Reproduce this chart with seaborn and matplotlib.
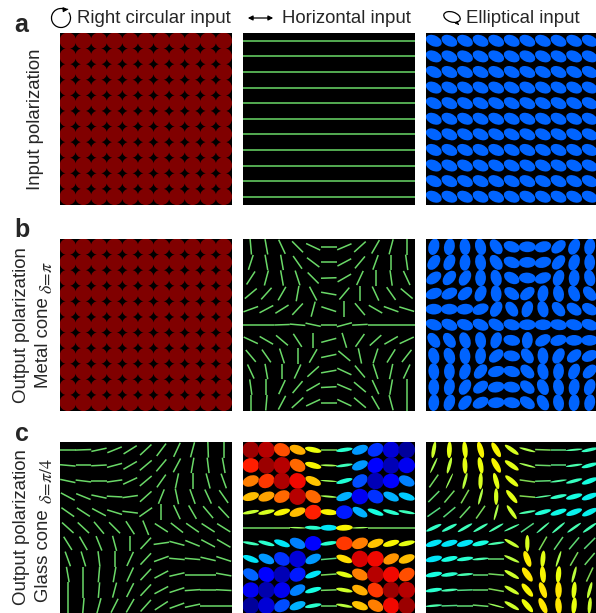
import matplotlib
matplotlib.use("Agg")
import matplotlib.pyplot as plt
import numpy as np
import pandas as pd
import seaborn as sns
from matplotlib.collections import EllipseCollection, LineCollection
from matplotlib.patches import Arc, Ellipse

ROWS = ["a", "b", "c"]
COLS = ["circular", "horizontal", "elliptical"]
TITLES = ["Right circular input", "Horizontal input", "Elliptical input"]
GRID = 11

# angle of the major axis in degrees (ccw, row 0 on top)
B_HORIZONTAL_ANGLE = [
    [95, 100, 115, 135, 155, 0, 23, 42, 60, 75, 90],
    [72, 100, 100, 125, 143, 0, 28, 50, 70, 90, 98],
    [57, 75, 100, 108, 135, 2, 30, 65, 90, 98, 115],
    [40, 48, 60, 80, 118, -10, 50, 90, 115, 125, 140],
    [20, 28, 32, 47, 75, -18, 90, 130, 150, 160, 163],
    [0, 0, 2, -5, -12, 0, 15, 3, 0, 0, 0],
    [-25, -30, -40, -57, 90, 15, -73, 55, 42, 30, 25],
    [-50, -55, -72, 90, 60, 12, -40, -78, 72, 58, 52],
    [-65, -80, 90, 65, 42, 10, -25, -50, -72, 78, 65],
    [-82, 90, 65, 50, 30, 3, -23, -40, -65, 80, 90],
    [90, 85, 62, 42, 25, 0, -25, -40, -60, -75, 90],
]
B_ELLIPTICAL_ANGLE = [
    [75, 80, 95, 105, 125, 160, 0, 15, 40, 65, 80],
    [55, 65, 85, 100, 125, 160, 0, 15, 50, 70, 90],
    [35, 50, 60, 88, 105, 150, 175, 20, 70, 85, 105],
    [20, 25, 40, 65, 95, 145, 40, 80, 100, 115, 130],
    [0, 0, 5, 20, 60, 125, 70, 105, 130, 145, 150],
    [160, 155, 160, 155, 150, 165, 0, 0, 170, 165, 160],
    [125, 125, 110, 100, 70, 170, 85, 30, 15, 0, 0],
    [105, 110, 95, 85, 40, 170, 125, 95, 60, 40, 25],
    [95, 90, 70, 50, 15, 165, 135, 105, 85, 65, 45],
    [90, 80, 60, 35, 10, 170, 140, 115, 100, 80, 70],
    [85, 70, 50, 25, 5, 170, 145, 120, 100, 85, 80],
]
C_CIRCULAR_ANGLE = [
    [0, 2, 12, 22, 32, 43, 53, 65, 75, 92, 90],
    [-5, 0, 3, 15, 30, 40, 50, 62, 80, 97, 100],
    [-12, -7, 0, 8, 25, 40, 55, 78, 90, 105, 110],
    [-28, -22, -12, -3, 8, 42, 68, 102, 110, 115, 125],
    [-35, -33, -28, -17, -7, 35, 90, 115, 120, 130, 133],
    [-42, -43, -50, -45, -57, -68, -33, -38, -35, -33, -32],
    [-58, -60, -68, -75, 90, 47, 8, -15, -22, -28, -30],
    [-70, -73, -83, 90, 65, 47, 20, -5, -5, -13, -18],
    [-80, 90, 85, 80, 65, 47, 28, 13, 0, 0, -10],
    [90, 90, 85, 75, 63, 47, 28, 18, 4, 0, -3],
    [90, 85, 75, 63, 60, 48, 33, 20, 12, 0, 0],
]
C_HORIZONTAL_ANGLE = [
    [0, 0, -25, -20, -12, 0, 8, 20, 30, 0, 0],
    [0, 0, -30, -30, -15, -2, 8, 22, 35, 0, 0],
    [20, 30, 0, -30, -25, -4, 15, 35, 0, 0, -25],
    [15, 18, 25, 0, -30, -5, 20, 0, -30, -25, -18],
    [10, 12, 15, 20, 15, -5, 0, -30, -20, -15, -10],
    [0, 0, 0, -2, -3, 0, 3, 2, 0, 0, 0],
    [-10, -15, -20, -25, 0, 8, 0, 20, 20, 15, 12],
    [-20, -25, -30, 0, 25, 5, -20, 0, 30, 25, 20],
    [-30, -30, 0, 30, 20, 4, -15, -25, 0, 30, 30],
    [0, 0, 30, 28, 15, 2, -10, -25, -35, 0, 0],
    [0, 0, 30, 20, 10, 0, -10, -20, -30, -45, 0],
]
C_ELLIPTICAL_ANGLE = [
    [80, 88, 95, 105, 120, 145, 165, 178, 0, 5, 12],
    [65, 75, 92, 100, 120, 145, 165, 178, 0, 8, 15],
    [55, 65, 75, 88, 105, 140, 172, 2, 8, 15, 20],
    [45, 50, 60, 75, 90, 130, 175, 8, 12, 15, 20],
    [35, 40, 48, 55, 75, 125, 10, 15, 18, 20, 25],
    [25, 27, 30, 30, 30, 25, 35, 40, 40, 35, 35],
    [17, 15, 15, 12, 8, 150, 90, 60, 55, 50, 45],
    [12, 12, 8, 5, 0, 155, 110, 85, 72, 60, 50],
    [10, 8, 5, 0, 175, 150, 125, 95, 85, 75, 65],
    [8, 5, 2, 0, 170, 150, 130, 110, 90, 85, 75],
    [5, 2, 0, 175, 165, 150, 130, 115, 95, 85, 85],
]

# signed ellipticity b/a, +1 right circular, -1 left circular
C_HORIZONTAL_ELLIPTICITY = [
    [.95, .9, .65, .45, .27, .05, -.2, -.45, -.65, -.85, -.95],
    [.75, .95, .9, .6, .3, .1, -.15, -.45, -.75, -.9, -.8],
    [.55, .7, .92, .8, .4, .08, -.22, -.6, -.9, -.75, -.5],
    [.42, .47, .6, .9, .6, .1, -.4, -.8, -.65, -.4, -.35],
    [.18, .22, .3, .42, .75, .3, -.7, -.4, -.25, -.2, -.15],
    [.02, .02, .04, .08, -.2, -.3, .3, .08, .04, .02, .02],
    [-.15, -.2, -.3, -.5, -.75, -.2, .7, .55, .4, .3, .25],
    [-.3, -.45, -.65, -.85, -.45, -.05, .35, .85, .8, .5, .42],
    [-.55, -.75, -.9, -.7, -.3, .05, .25, .55, .9, .8, .65],
    [-.8, -.92, -.8, -.5, -.25, .03, .2, .45, .7, .95, .9],
    [-.95, -.85, -.6, -.4, -.2, 0, .15, .4, .55, .8, .95],
]
C_ELLIPTICAL_ELLIPTICITY = [
    [.2, .25, .27, .3, .3, .22, .12, .05, -.04, -.1, -.17],
    [.1, .17, .25, .27, .3, .25, .1, 0, -.05, -.12, -.2],
    [.03, .08, .15, .22, .25, .25, .07, -.03, -.1, -.17, -.25],
    [-.02, .02, .06, .13, .22, .25, .07, -.08, -.18, -.25, -.28],
    [-.07, -.04, 0, .04, .12, .2, -.12, -.22, -.26, -.28, -.28],
    [-.18, -.17, -.15, -.14, -.12, -.1, -.07, -.1, -.12, -.13, -.14],
    [-.3, -.3, -.3, -.25, -.12, .18, .22, .05, -.02, -.03, -.04],
    [-.3, -.25, -.2, -.12, -.02, .15, .32, .25, .12, .04, 0],
    [-.25, -.2, -.13, -.03, .03, .2, .33, .3, .27, .15, .07],
    [-.2, -.13, -.07, -.02, .06, .2, .3, .33, .33, .25, .17],
    [-.12, -.07, -.03, 0, .08, .2, .28, .33, .33, .27, .2],
]

# panels that have one state everywhere
CIRCULAR_STATE = (0, 1.0)
HORIZONTAL_STATE = (0, 0.0)
ELLIPTICAL_ANGLE = 155
ELLIPTICAL_E = -0.55

PANELS = {
    ("a", "circular"): CIRCULAR_STATE,
    ("a", "horizontal"): HORIZONTAL_STATE,
    ("a", "elliptical"): (ELLIPTICAL_ANGLE, ELLIPTICAL_E),
    ("b", "circular"): CIRCULAR_STATE,
    ("b", "horizontal"): (B_HORIZONTAL_ANGLE, 0.0),
    ("b", "elliptical"): (B_ELLIPTICAL_ANGLE, ELLIPTICAL_E),
    ("c", "circular"): (C_CIRCULAR_ANGLE, 0.0),
    ("c", "horizontal"): (C_HORIZONTAL_ANGLE, C_HORIZONTAL_ELLIPTICITY),
    ("c", "elliptical"): (C_ELLIPTICAL_ANGLE, C_ELLIPTICAL_ELLIPTICITY),
}

W, H = 596, 613
COL_LEFT = [60, 243, 426]
ROW_TOP = [33, 239, 442]
PANEL_SIZE = 171.5
MAJOR = 1.07  # neighbours overlap a little, so only small diamonds stay black
MINOR_GAIN = 1.25
LINE_BELOW = 0.08  # flatter states than this are drawn as plain lines
FONT = 13.4


def build_frame():
    frames = []
    for (row, col), (angle, ellipticity) in PANELS.items():
        yy, xx = np.mgrid[0:GRID, 0:GRID]
        frames.append(pd.DataFrame({
            "row": row,
            "col": col,
            "x": xx.ravel(),
            "y": GRID - 1 - yy.ravel(),
            "angle": np.broadcast_to(angle, (GRID, GRID)).ravel(),
            "ellipticity": np.broadcast_to(ellipticity, (GRID, GRID)).ravel(),
        }))
    return pd.concat(frames, ignore_index=True)


def draw_ellipses(data, **kwargs):
    ax = plt.gca()
    ax.set_facecolor("black")
    norm = plt.Normalize(-1, 1)
    flat = data["ellipticity"].abs() < LINE_BELOW
    solid = data[~flat]
    if len(solid):
        heights = np.minimum(solid["ellipticity"].abs() * MINOR_GAIN, MAJOR)
        coll = EllipseCollection(
            np.full(len(solid), MAJOR), heights, solid["angle"], units="xy",
            offsets=solid[["x", "y"]].to_numpy(), offset_transform=ax.transData,
            cmap="jet", norm=norm, edgecolors="none",
        )
        coll.set_array(solid["ellipticity"].to_numpy())
        ax.add_collection(coll)
    lines = data[flat]
    if len(lines):
        theta = np.deg2rad(lines["angle"].to_numpy())
        dx, dy = 0.5 * np.cos(theta), 0.5 * np.sin(theta)
        x, y = lines["x"].to_numpy(), lines["y"].to_numpy()
        segments = np.stack([np.c_[x - dx, y - dy], np.c_[x + dx, y + dy]], axis=1)
        coll = LineCollection(segments, cmap="jet", norm=norm, linewidths=1.1,
                              capstyle="butt", alpha=0.85)
        coll.set_array(lines["ellipticity"].to_numpy())
        ax.add_collection(coll)
    ax.set_xlim(-0.5, GRID - 0.5)
    ax.set_ylim(-0.5, GRID - 0.5)


sns.set_style("white")
plt.rcParams["font.family"] = ["Liberation Sans", "DejaVu Sans"]
plt.rcParams["mathtext.fontset"] = "stix"

df = build_frame()
g = sns.FacetGrid(df, row="row", col="col", row_order=ROWS, col_order=COLS,
                  height=2, despine=False)
g.map_dataframe(draw_ellipses)
g.set_titles("")
g.set_axis_labels("", "")
g.set(xticks=[], yticks=[])
g.figure.set_size_inches(W / 100, H / 100)

for i, top in enumerate(ROW_TOP):
    for j, left in enumerate(COL_LEFT):
        ax = g.axes[i, j]
        ax.set_position([left / W, 1 - (top + PANEL_SIZE) / H, PANEL_SIZE / W, PANEL_SIZE / H])
        for spine in ax.spines.values():
            spine.set_visible(False)

# text and input icons, placed in pixel units
over = g.figure.add_axes([0, 0, 1, 1], facecolor="none")
over.set_xlim(0, W)
over.set_ylim(H, 0)
over.axis("off")

for x, title in zip([77, 282, 466], TITLES):
    over.text(x, 18.5, title, fontsize=FONT, ha="left", va="center")

for y, letter in zip([25, 230, 434], ROWS):
    over.text(21.5, y, letter, fontsize=18, fontweight="bold", ha="center", va="center")

over.text(35, 119, "Input polarization", fontsize=FONT, rotation=90, ha="center", va="center")
over.text(22, 325, "Output polarization", fontsize=FONT, rotation=90, ha="center", va="center")
over.text(22, 527, "Output polarization", fontsize=FONT, rotation=90, ha="center", va="center")
over.text(44, 343, "Metal cone", fontsize=FONT, rotation=90, ha="center", va="center")
over.text(44, 556, "Glass cone", fontsize=FONT, rotation=90, ha="center", va="center")
over.text(47, 277, r"$\delta\!=\!\pi$", fontsize=13, rotation=90, ha="center", va="center")
over.text(47, 481, r"$\delta\!=\!\pi/4$", fontsize=13, rotation=90, ha="center", va="center")

over.add_patch(Arc((61, 18), 19, 19, theta1=-35, theta2=305, color="black", lw=0.9))
over.annotate("", xy=(71, 9), xytext=(65, 9.5),
              arrowprops=dict(arrowstyle="-|>", color="black", lw=0.8, mutation_scale=7))
over.annotate("", xy=(276, 18), xytext=(245, 18),
              arrowprops=dict(arrowstyle="<|-|>", color="black", lw=0.9, mutation_scale=7))
over.add_patch(Ellipse((452, 17), 17, 10, angle=18, fill=False, color="black", lw=0.9))
over.annotate("", xy=(459, 25), xytext=(456, 22),
              arrowprops=dict(arrowstyle="-|>", color="black", lw=0.6, mutation_scale=5))

g.figure.savefig("out.png", dpi=100)
